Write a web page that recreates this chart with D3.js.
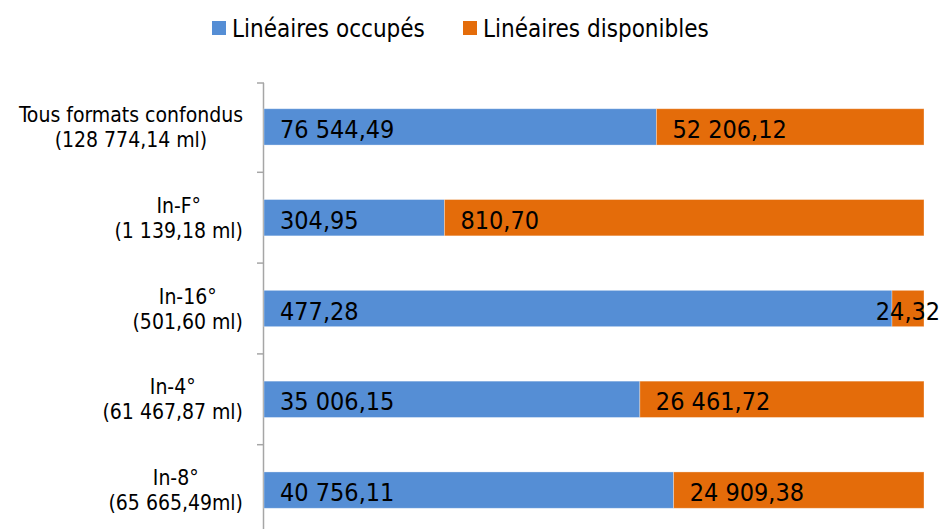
<!DOCTYPE html>
<html>
<head>
<meta charset="utf-8">
<script src="https://cdn.jsdelivr.net/npm/d3@7"></script>
<style>
  body { margin: 0; background: #fff; }
  text { font-family: "DejaVu Sans Condensed", "DejaVu Sans", sans-serif; fill: #000; }
</style>
</head>
<body>
<div id="chart"></div>
<script>
// data
var categories = ["Tous formats confondus", "In-F°", "In-16°", "In-4°", "In-8°"];
var totalLabels = ["(128 774,14 ml)", "(1 139,18 ml)", "(501,60 ml)", "(61 467,87 ml)", "(65 665,49ml)"];
var occupes = [76544.49, 304.95, 477.28, 35006.15, 40756.11];
var disponibles = [52206.12, 810.70, 24.32, 26461.72, 24909.38];
var seriesNames = ["Linéaires occupés", "Linéaires disponibles"];
var colors = ["#558ed5", "#e46c0a"];

var svgWidth = 946;
var svgHeight = 529;

var svg = d3.select("#chart")
  .append("svg")
  .attr("width", svgWidth)
  .attr("height", svgHeight);

var fr = d3.formatLocale({decimal: ",", thousands: " ", grouping: [3], currency: ["", " €"]});
var fmt = fr.format(",.2f");

// 100% stacked rows
var rows = categories.map(function(c, i) {
  var tot = occupes[i] + disponibles[i];
  return {cat: c, total: totalLabels[i], vals: [occupes[i], disponibles[i]], share: [occupes[i] / tot, disponibles[i] / tot]};
});

var x = d3.scaleLinear().domain([0, 1]).range([264, 924]);
var y = d3.scaleBand()
  .domain(categories)
  .range([81.5, 81.5 + 5 * 90.8])
  .paddingInner(0.6)
  .paddingOuter(0.3);

// axis line + ticks between categories
var axisG = svg.append("g").attr("class", "y-axis");
axisG.append("line")
  .attr("x1", 263.5).attr("x2", 263.5)
  .attr("y1", 83).attr("y2", svgHeight)
  .attr("stroke", "#a6a6a6").attr("stroke-width", 1.5);

var step = y.step();
var tickYs = d3.range(categories.length).map(function(i) { return 81.5 + i * step + (i === 0 ? 1.5 : 0); });
axisG.selectAll(".tick")
  .data(tickYs)
  .enter()
  .append("line")
  .attr("x1", 257).attr("x2", 264)
  .attr("y1", d => d).attr("y2", d => d)
  .attr("stroke", "#a6a6a6").attr("stroke-width", 1.5);

// bars
var rowG = svg.selectAll(".row")
  .data(rows)
  .enter()
  .append("g")
  .attr("class", "row");

rowG.each(function(d) {
  var g = d3.select(this);
  var start = 0;
  d.share.forEach(function(s, k) {
    var x0 = x(start), x1 = x(start + s);
    g.append("rect")
      .attr("x", x0)
      .attr("y", y(d.cat))
      .attr("width", x1 - x0)
      .attr("height", y.bandwidth())
      .attr("fill", colors[k])
      .attr("stroke", "#ffffff")
      .attr("stroke-opacity", 0.4)
      .attr("stroke-width", 0.8);

    var t = g.append("text")
      .attr("y", y(d.cat) + y.bandwidth() / 2 + 11)
      .attr("font-size", "25px")
      .text(fmt(d.vals[k]));
    var w = t.node().getComputedTextLength();
    if (w + 16 > x1 - x0) {
      // too narrow: centre the label on its segment
      t.attr("x", (x0 + x1) / 2).attr("text-anchor", "middle");
    } else {
      t.attr("x", x0 + 16);
    }
    start += s;
  });

  // category label, two centred lines, block right-aligned to the axis
  var cy = y(d.cat) + y.bandwidth() / 2;
  var lab = g.append("text")
    .attr("text-anchor", "middle")
    .attr("font-size", "21px");
  var l1 = lab.append("tspan").attr("y", cy - 5).text(d.cat);
  var l2 = lab.append("tspan").attr("y", cy + 20).text(d.total);
  var maxW = Math.max(l1.node().getComputedTextLength(), l2.node().getComputedTextLength());
  var cx = 243 - maxW / 2;
  l1.attr("x", cx);
  l2.attr("x", cx);
});

// legend
var legend = svg.append("g").attr("class", "legend");
var legendX = [212, 463];
seriesNames.forEach(function(name, k) {
  legend.append("rect")
    .attr("x", legendX[k]).attr("y", 21)
    .attr("width", 14).attr("height", 14)
    .attr("fill", colors[k]);
  legend.append("text")
    .attr("x", legendX[k] + 20).attr("y", 37)
    .attr("font-size", "24px")
    .text(name);
});
</script>
</body>
</html>
